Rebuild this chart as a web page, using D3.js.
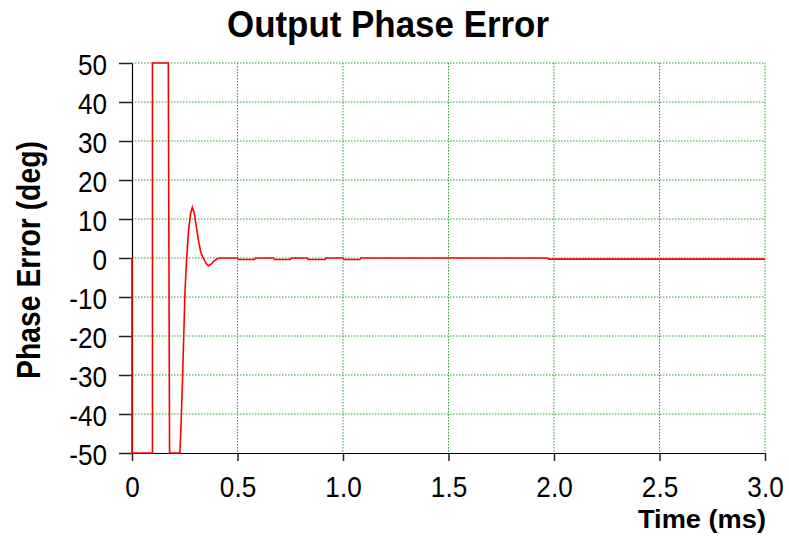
<!DOCTYPE html>
<html>
<head>
<meta charset="utf-8">
<script src="https://cdn.jsdelivr.net/npm/d3@7"></script>
<style>
  html, body { margin: 0; padding: 0; background: #fff; }
  svg { display: block; }
  text { font-family: "Liberation Sans", Arial, sans-serif; fill: #000; }
</style>
</head>
<body>
<svg id="chart" width="789" height="539"></svg>
<script>
// ---- data ----
const timeMs = [0, 0, 0.097, 0.097, 0.172, 0.178, 0.227, 0.233, 0.240, 0.246, 0.251, 0.259, 0.268, 0.278, 0.286,
  0.295, 0.305, 0.315, 0.326, 0.338, 0.350, 0.362, 0.375, 0.390, 0.405, 0.417,
  0.50, 0.505, 0.58, 0.585, 0.67, 0.675, 0.75, 0.755, 0.83, 0.835, 0.915, 0.92,
  1.0, 1.005, 1.08, 1.085, 1.97, 1.975, 3.0];
const phaseDeg = [0, -50, -50, 50, 50, -50, -50, -42, -30, -18.5, -8.7, 0, 7, 11.5, 13,
  11.5, 8, 4.5, 1.5, 0, -1.3, -2, -1.6, -0.7, -0.2, 0,
  0, -0.4, -0.4, 0, 0, -0.4, -0.4, 0, 0, -0.4, -0.4, 0,
  0, -0.4, -0.4, 0, 0, -0.3, -0.3];
const xTicks = [0, 0.5, 1.0, 1.5, 2.0, 2.5, 3.0];
const xTickLabels = ["0", "0.5", "1.0", "1.5", "2.0", "2.5", "3.0"];
const yTicks = [-50, -40, -30, -20, -10, 0, 10, 20, 30, 40, 50];
const yTickLabels = ["-50", "-40", "-30", "-20", "-10", "0", "10", "20", "30", "40", "50"];
const titleText = "Output Phase Error";
const xLabel = "Time (ms)";
const yLabel = "Phase Error (deg)";

// ---- layout ----
const svg = d3.select("#chart");
const L = 132, R = 765, T = 63, B = 453;
const x = d3.scaleLinear().domain([0, 3]).range([L, R]);
const y = d3.scaleLinear().domain([-50, 50]).range([B, T]);
const FONT = '"Liberation Sans", Arial, sans-serif';

svg.append("rect").attr("width", 789).attr("height", 539).attr("fill", "#fff");

// grid
const grid = svg.append("g");
grid.selectAll("line.gx").data(xTicks.filter(d => d > 0)).join("line")
  .attr("x1", d => x(d)).attr("x2", d => x(d)).attr("y1", T).attr("y2", B)
  .attr("stroke", "#2f9a2f").attr("stroke-width", 1).attr("stroke-dasharray", "1.5,1.5");
grid.selectAll("line.gy").data(yTicks.filter(d => d > -50)).join("line")
  .attr("x1", L).attr("x2", R).attr("y1", d => y(d)).attr("y2", d => y(d))
  .attr("stroke", "#2f9a2f").attr("stroke-width", 1).attr("stroke-dasharray", "1.5,1.5");

// axes
const yAxis = d3.axisLeft(y).tickValues(yTicks).tickSize(13).tickSizeOuter(0)
  .tickFormat((d, i) => yTickLabels[i]);
const gy = svg.append("g").attr("transform", `translate(${L},0)`).call(yAxis);
gy.select(".domain").attr("stroke", "#000").attr("stroke-width", 1.2);
gy.selectAll(".tick line").attr("stroke", "#222").attr("stroke-width", 1.5);
gy.selectAll(".tick text")
  .attr("x", 0).attr("dy", null).attr("y", 0)
  .attr("transform", "translate(-25,11) scale(0.87,1)")
  .attr("text-anchor", "end")
  .style("font-size", "30px").style("font-family", FONT).attr("fill", "#000");

const xAxis = d3.axisBottom(x).tickValues(xTicks).tickSize(8).tickSizeOuter(0)
  .tickFormat((d, i) => xTickLabels[i]);
const gx = svg.append("g").attr("transform", `translate(0,${B})`).call(xAxis);
gx.select(".domain").attr("stroke", "#000").attr("stroke-width", 1.2);
gx.selectAll(".tick line").attr("stroke", "#222").attr("stroke-width", 1.5);
gx.selectAll(".tick text")
  .attr("y", 0).attr("dy", null)
  .attr("transform", "translate(0,44) scale(0.87,1)")
  .attr("text-anchor", "middle")
  .style("font-size", "30px").style("font-family", FONT).attr("fill", "#000");

// line
const line = d3.line().x((d, i) => x(timeMs[i])).y(d => y(d));
svg.append("path").datum(phaseDeg)
  .attr("d", line)
  .attr("fill", "none").attr("stroke", "#ff0000").attr("stroke-width", 1.6)
  .attr("stroke-linejoin", "miter");

// title
svg.append("text").attr("x", 388).attr("y", 37)
  .attr("text-anchor", "middle").attr("font-weight", "bold").style("font-size", "36px")
  .attr("textLength", 322).attr("lengthAdjust", "spacingAndGlyphs")
  .text(titleText);

// x label
svg.append("text").attr("x", 638).attr("y", 528)
  .attr("font-weight", "bold").style("font-size", "26px")
  .attr("textLength", 128).attr("lengthAdjust", "spacingAndGlyphs")
  .text(xLabel);

// y label
svg.append("text").attr("transform", "translate(40,260) rotate(-90)")
  .attr("text-anchor", "middle").attr("font-weight", "bold").style("font-size", "34px")
  .attr("textLength", 238).attr("lengthAdjust", "spacingAndGlyphs")
  .text(yLabel);
</script>
</body>
</html>
